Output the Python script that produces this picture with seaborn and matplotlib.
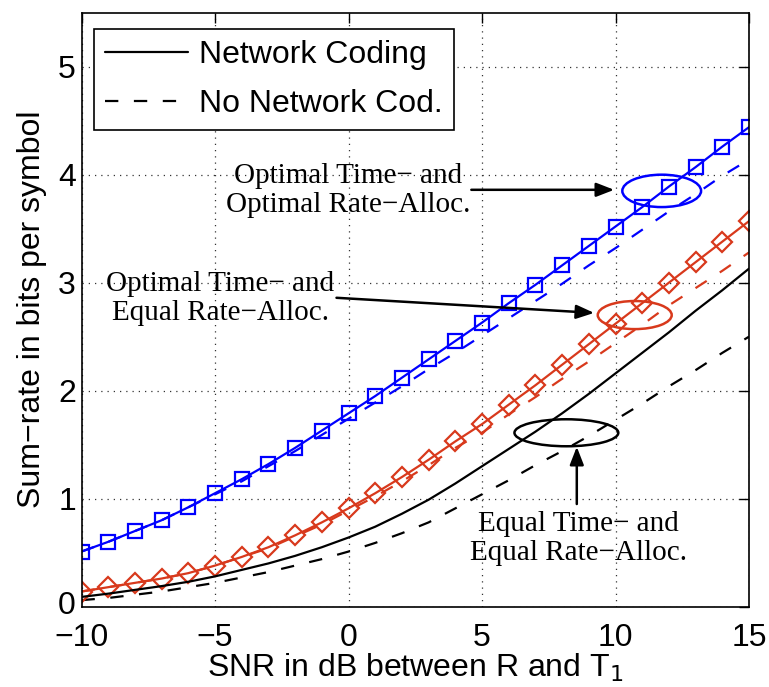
import numpy as np
import pandas as pd
import seaborn as sns
import matplotlib.pyplot as plt
from matplotlib.lines import Line2D
from matplotlib.patches import Ellipse
from matplotlib.transforms import ScaledTranslation

# SNR axis (dB)
snr = list(range(-10, 16))

# optimal time / optimal rate allocation
opt_opt_nc = [0.51, 0.60, 0.70, 0.80, 0.92, 1.05, 1.18, 1.32, 1.47, 1.63, 1.79, 1.95, 2.12,
              2.29, 2.46, 2.63, 2.81, 2.98, 3.16, 3.34, 3.52, 3.70, 3.89, 4.07, 4.26, 4.44]
opt_opt_nonc = [0.51, 0.60, 0.70, 0.80, 0.92, 1.04, 1.16, 1.30, 1.44, 1.59, 1.74, 1.89, 2.04,
                2.20, 2.35, 2.51, 2.67, 2.83, 2.99, 3.16, 3.32, 3.49, 3.66, 3.82, 3.99, 4.14]

# optimal time / equal rate allocation
opt_eq_nc = [0.14, 0.18, 0.22, 0.26, 0.31, 0.38, 0.46, 0.55, 0.66, 0.78, 0.91, 1.05, 1.20,
             1.36, 1.53, 1.69, 1.87, 2.05, 2.24, 2.43, 2.62, 2.81, 3.00, 3.19, 3.38, 3.57]
opt_eq_nonc = [0.14, 0.18, 0.22, 0.26, 0.31, 0.38, 0.46, 0.54, 0.65, 0.76, 0.89, 1.02, 1.16,
               1.31, 1.47, 1.61, 1.78, 1.94, 2.11, 2.27, 2.44, 2.61, 2.79, 2.95, 3.11, 3.28]

# equal time / equal rate allocation
eq_eq_nc = [0.09, 0.12, 0.155, 0.19, 0.23, 0.28, 0.34, 0.40, 0.47, 0.55, 0.64, 0.74, 0.86,
            0.99, 1.14, 1.30, 1.46, 1.62, 1.79, 1.97, 2.16, 2.35, 2.54, 2.74, 2.93, 3.13]
eq_eq_nonc = [0.06, 0.08, 0.11, 0.14, 0.18, 0.22, 0.27, 0.32, 0.38, 0.44, 0.51, 0.59, 0.68,
              0.78, 0.91, 1.04, 1.17, 1.31, 1.44, 1.58, 1.73, 1.88, 2.04, 2.19, 2.35, 2.50]

legend_labels = ['Network Coding', 'No Network Cod.']

BLUE = '#0000ff'
RED = '#d8391c'
DASH = (0, (6, 7))

df = pd.DataFrame({'snr': snr,
                   'oo_nc': opt_opt_nc, 'oo_no': opt_opt_nonc,
                   'oe_nc': opt_eq_nc, 'oe_no': opt_eq_nonc,
                   'ee_nc': eq_eq_nc, 'ee_no': eq_eq_nonc})

sns.set_theme(style='white')
plt.rcParams['font.family'] = ['Liberation Sans', 'DejaVu Sans']
plt.rcParams['text.color'] = 'black'
plt.rcParams['axes.labelcolor'] = 'black'

fig = plt.figure(figsize=(7.69, 6.87), dpi=100)
ax = fig.add_axes([0.106, 0.117, 0.868, 0.8645])

# dashed curves first (no network coding)
sns.lineplot(data=df, x='snr', y='oo_no', ax=ax, color=BLUE, lw=1.6, linestyle=DASH)
sns.lineplot(data=df, x='snr', y='oe_no', ax=ax, color=RED, lw=1.6, linestyle=DASH)
sns.lineplot(data=df, x='snr', y='ee_no', ax=ax, color='black', lw=1.6, linestyle=DASH)

# solid curves (network coding)
sns.lineplot(data=df, x='snr', y='oo_nc', ax=ax, color=BLUE, lw=1.6, marker='s',
             markersize=10, markerfacecolor='none', markeredgecolor=BLUE, markeredgewidth=1.6)
sns.lineplot(data=df, x='snr', y='oe_nc', ax=ax, color=RED, lw=1.6, marker='D',
             markersize=10, markerfacecolor='none', markeredgecolor=RED, markeredgewidth=1.6)
sns.lineplot(data=df, x='snr', y='ee_nc', ax=ax, color='black', lw=1.6)

ax.set_xlim(-10, 15)
ax.set_ylim(0, 5.5)
ax.set_xticks([-10, -5, 0, 5, 10, 15])
ax.set_xticklabels(['\u221210', '\u22125', '0', '5', '10', '15'])
ax.set_yticks([0, 1, 2, 3, 4, 5])
ax.tick_params(direction='in', length=7, width=1, top=True, right=True,
               labelsize=23, colors='black')
ax.tick_params(axis='x', pad=12)
ax.tick_params(axis='y', pad=4)
for s in ax.spines.values():
    s.set_color('black')
    s.set_linewidth(1.2)
ax.grid(True, linestyle=(0, (1, 4)), color='#333333', linewidth=0.9)

# lift the "0" on the y axis a little so it clears the "-10" below it
zero_lbl = ax.yaxis.get_major_ticks()[0].label1
zero_lbl.set_transform(zero_lbl.get_transform() + ScaledTranslation(0, 3 / 72, fig.dpi_scale_trans))

ax.set_xlabel('SNR in dB between R and T$_1$', fontsize=23, labelpad=-1)
ax.set_ylabel('Sum\u2212rate in bits per symbol', fontsize=23, labelpad=8)

# ellipses marking each group
for (cx, cy, w, h, c) in [(11.73, 3.85, 2.95, 0.30, BLUE),
                          (10.72, 2.70, 2.77, 0.26, RED),
                          (8.16, 1.61, 3.89, 0.25, 'black')]:
    ax.add_patch(Ellipse((cx, cy), w, h, fill=False, edgecolor=c, lw=1.8, zorder=5))

serif = ['Liberation Serif', 'DejaVu Serif']
arrow = dict(arrowstyle='-|>,head_length=0.9,head_width=0.35', color='black', lw=1.8,
             shrinkA=0, shrinkB=0)
ax.annotate('', xy=(9.95, 3.86), xytext=(4.6, 3.86), arrowprops=arrow)
ax.text(0.0, 3.85, 'Optimal Time\u2212 and\nOptimal Rate\u2212Alloc.', family=serif,
        fontsize=21, ha='center', va='center', linespacing=1.15, color='black')
ax.annotate('', xy=(9.2, 2.72), xytext=(-0.45, 2.86), arrowprops=arrow)
ax.text(-4.8, 2.85, 'Optimal Time\u2212 and\nEqual Rate\u2212Alloc.', family=serif,
        fontsize=21, ha='center', va='center', linespacing=1.15, color='black')
ax.annotate('', xy=(8.55, 1.48), xytext=(8.55, 0.95), arrowprops=arrow)
ax.text(8.6, 0.63, 'Equal Time\u2212 and\nEqual Rate\u2212Alloc.', family=serif,
        fontsize=21, ha='center', va='center', linespacing=1.15, color='black')

handles = [Line2D([], [], color='black', lw=1.6),
           Line2D([], [], color='black', lw=1.6, linestyle=DASH)]
leg = ax.legend(handles, legend_labels, loc='upper left', bbox_to_anchor=(0.018, 0.973),
                borderaxespad=0, fontsize=23, handlelength=2.6, handletextpad=0.35,
                labelspacing=0.6, borderpad=0.35, fancybox=False, framealpha=1)
leg.get_frame().set_edgecolor('black')
leg.get_frame().set_linewidth(1.2)

fig.savefig('out.png', dpi=100)
